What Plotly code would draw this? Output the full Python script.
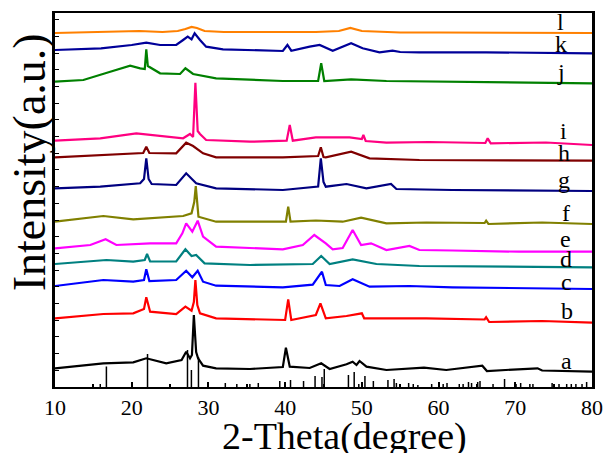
import plotly.graph_objects as go

# ---- data (2-theta in degrees, intensity in offset arbitrary units) ----
theta_a = [10, 16.3, 20.2, 21.9, 24.5, 26.5, 27.1, 27.6, 27.85, 28.1, 28.4, 28.65, 29.3, 31, 35.4, 39.7, 40.1, 40.6, 43.2, 44.7, 45.8, 48, 48.8, 49.3, 49.7, 50.6, 53.2, 58.1, 61, 65.7, 66.3, 72.9, 73.5, 80]
int_a = [18.7, 23.7, 24.7, 28.7, 23.7, 27, 35.3, 28.7, 32, 72, 35, 28.7, 21.3, 18.7, 18, 20, 39.3, 20.3, 19, 23.7, 18, 22.7, 25.3, 22, 26, 20.3, 17, 19.3, 17, 21.3, 16, 18.7, 16.5, 15.3]

theta_b = [10, 16.3, 20.2, 21.6, 21.9, 22.4, 25.8, 27, 27.8, 28.1, 28.3, 28.55, 28.9, 31, 40.0, 40.4, 40.8, 44.0, 44.6, 45.3, 48, 50.0, 50.3, 58.4, 66.0, 66.2, 66.6, 73.5, 80]
int_b = [68.7, 73, 73.7, 78, 89.7, 75.3, 73, 80.3, 76.3, 85, 107, 82, 73.7, 68.7, 67, 87.7, 67, 72, 83.7, 68.7, 71, 73.7, 68.7, 68.7, 67.5, 69.7, 65, 66, 64.3]

theta_c = [10, 16.3, 20.2, 21.6, 21.9, 22.3, 25.8, 27.1, 27.9, 28.6, 29.3, 31, 39.7, 43.6, 44.8, 45.3, 47.1, 48.8, 51, 56.2, 61.8, 80]
int_c = [101, 107, 105.3, 107, 117.7, 106, 107, 116.3, 109.7, 116.3, 105.3, 101.3, 99.7, 102.3, 115.3, 102, 101, 107.7, 100.3, 101, 99.7, 98]

theta_d = [10, 16.7, 20.2, 21.7, 22.0, 22.4, 25.8, 27, 27.8, 28.4, 29.5, 35.4, 43.6, 44.7, 45.8, 48.8, 51.9, 57.5, 80]
int_d = [123, 127, 125.3, 127, 133, 125.5, 125.7, 137.7, 131, 132, 123.7, 122, 123, 131, 123, 127.7, 123, 121, 119.7]

theta_e = [10, 14.6, 16.6, 18, 22.4, 25.8, 26.6, 27.1, 27.9, 28.6, 29.3, 31, 39.7, 42.3, 43.8, 45.3, 46.2, 47.5, 48.8, 49.9, 51.2, 53.2, 56.2, 57.5, 61.8, 70.5, 80]
int_e = [138.7, 142, 147.7, 142, 143.7, 143.7, 153.7, 163.7, 155.3, 166.3, 150.3, 140.3, 137.7, 142, 152, 143.7, 137.7, 139, 157, 142, 143.7, 137, 141, 137, 136.5, 135.3, 135.3]

theta_f = [10, 16.3, 20.2, 26.7, 27.8, 28.15, 28.35, 28.55, 28.7, 31, 40.1, 40.4, 40.7, 44, 47.5, 49.9, 53.2, 58.4, 66.0, 66.2, 66.5, 73.5, 80]
int_f = [165.3, 171, 167.7, 171, 173.7, 185, 201, 180, 170.3, 165.3, 165.3, 180.3, 165.3, 166.5, 165.3, 169.3, 163.7, 164.5, 164, 166.3, 163, 164.5, 163]

theta_g = [10, 15.9, 21.1, 21.6, 21.9, 22.2, 22.6, 25.8, 27.1, 28.4, 31, 39.7, 44.3, 44.65, 45.0, 45.3, 48, 50.6, 53.8, 54.5, 61.8, 80]
int_g = [198.7, 200.3, 203.7, 208, 228.7, 208, 203, 202, 213.7, 203.7, 198.7, 197, 200.5, 228.7, 205, 200.3, 203, 198.7, 203, 198, 197, 196]

theta_h = [10, 15.9, 20.6, 21.5, 21.9, 22.3, 25.8, 27.1, 28.0, 29.3, 31, 39.7, 44.3, 44.65, 45.0, 45.3, 48.6, 51, 57.5, 80]
int_h = [229.7, 232, 233.7, 234, 240.3, 234, 233.7, 244.3, 241, 233.7, 229.7, 229.7, 231, 239.7, 230, 229.7, 235.3, 228.7, 227, 226.3]

theta_i = [10, 15.9, 20.6, 23.7, 26.7, 27.6, 28.0, 28.3, 28.6, 28.9, 29.7, 35.4, 40.2, 40.6, 41.0, 44, 48.4, 50.0, 50.2, 50.5, 53.2, 58.8, 66.1, 66.4, 66.8, 74, 80]
int_i = [246.3, 248.7, 253.7, 251, 248.7, 253, 250, 304.3, 256, 253, 247, 245.3, 246.3, 262, 246.3, 249.7, 249.7, 248, 252, 246, 244.3, 245, 244, 248.7, 243.7, 244.5, 242]

theta_j = [10, 13.7, 17.2, 19.8, 21.1, 21.7, 21.9, 22.1, 23.7, 26.3, 27, 28, 31, 35.4, 39.7, 44.3, 44.7, 45.1, 48.6, 53.2, 66, 80]
int_j = [305.3, 307, 315.3, 321.3, 318.7, 318, 337.7, 321, 313.7, 313, 318.7, 313, 308.7, 307, 306, 306, 323.7, 306, 307.7, 306, 304.7, 303.7]

theta_k = [10, 14, 16, 20, 21.9, 23.7, 25.8, 26.7, 27.3, 27.8, 28.2, 28.9, 29.7, 31.9, 35.4, 39.7, 40.3, 40.8, 43.2, 44.5, 46.2, 48.6, 50.1, 52.3, 54, 55, 57.5, 66.2, 80]
int_k = [337, 338, 338.7, 342, 344.3, 342, 342, 347, 350.3, 347.7, 353.7, 347, 340.3, 337.7, 337, 336, 342, 336.3, 340.3, 342, 336.3, 343.7, 338.7, 334.7, 336.3, 335, 334.7, 334.7, 333.7]

theta_l = [10, 14, 18, 21, 24, 26, 27, 27.8, 28.5, 29.5, 32, 36, 40, 44, 47, 48.5, 50, 55, 60, 65, 70, 75, 80]
int_l = [354, 355, 355.5, 356, 355, 356, 358, 360, 359, 356, 355, 355, 355, 355, 356, 359, 356, 354.5, 354.5, 354.5, 354, 354, 354]

# reference (standard card) line positions and heights
ref_theta = [15.9, 16.7, 22.06, 27.27, 27.78, 28.7, 32.2, 33.7, 35.4, 36.5, 39.3, 40.7, 42.4, 43.9, 44.8, 45.1, 48.25, 49.0, 49.6, 50.4, 51.5, 53.4, 54.2, 54.5, 56.1, 56.7, 57.3, 59.1, 60.6, 61.1, 62.7, 63.2, 63.9, 64.3, 65.1, 65.4, 67.1, 68.6, 70.1, 70.7, 71.9, 72.3, 74.8, 75.7, 76.7, 77.3, 77.9, 78.7, 79.3]
ref_int = [3, 20.5, 33, 37, 17, 30, 4, 3, 3, 4, 6, 7, 6, 11, 10, 18, 12, 15, 3, 11, 6, 7, 8, 4, 4, 3, 2, 3, 3, 4, 3, 3, 5, 4, 5, 6, 3, 8, 3, 4, 3, 3, 4, 3, 3, 3, 3, 3, 5]

labels = ["a", "b", "c", "d", "e", "f", "g", "h", "i", "j", "k", "l"]
label_y = [26, 76, 105, 128, 148, 174, 207, 234, 256, 315, 343, 365]
x_ticks = [10, 20, 30, 40, 50, 60, 70, 80]

series = [
    (theta_a, int_a, "#000000"),
    (theta_b, int_b, "#ff0000"),
    (theta_c, int_c, "#0000ff"),
    (theta_d, int_d, "#008080"),
    (theta_e, int_e, "#ff00ff"),
    (theta_f, int_f, "#808000"),
    (theta_g, int_g, "#000080"),
    (theta_h, int_h, "#800000"),
    (theta_i, int_i, "#ff0080"),
    (theta_j, int_j, "#008000"),
    (theta_k, int_k, "#000099"),
    (theta_l, int_l, "#ff8000"),
]

FONT = "Liberation Serif, Times New Roman, serif"

fig = go.Figure()

# stick pattern
sx, sy = [], []
for t, h in zip(ref_theta, ref_int):
    sx += [t, t, None]
    sy += [0, h, None]
fig.add_trace(go.Scatter(x=sx, y=sy, mode="lines", line=dict(color="black", width=1.5),
                         hoverinfo="skip", showlegend=False))

for (xs, ys, col), lab in zip(series, labels):
    fig.add_trace(go.Scatter(x=xs, y=ys, mode="lines", name=lab,
                             line=dict(color=col, width=2.2), showlegend=False))

lab_x = [76.7, 76.7, 76.7, 76.6, 76.6, 76.6, 76.4, 76.4, 76.3, 76.0, 75.9, 75.9]
for lab, lx, ly in zip(labels, lab_x, label_y):
    fig.add_annotation(x=lx, y=ly, text=lab, showarrow=False, xanchor="center", yanchor="middle",
                       font=dict(family=FONT, size=24, color="black"))

# axis titles placed as annotations (paper coords)
fig.add_annotation(xref="paper", yref="paper", x=0.54, y=-0.133, text="2-Theta(degree)",
                   showarrow=False, xanchor="center", yanchor="middle",
                   font=dict(family=FONT, size=38, color="black"))
fig.add_annotation(xref="paper", yref="paper", x=-0.047, y=0.6, text="Intensity(a.u.)",
                   showarrow=False, xanchor="center", yanchor="middle", textangle=-90,
                   font=dict(family=FONT, size=46, color="black"))

fig.update_layout(
    width=605, height=453,
    margin=dict(l=55, r=13, t=13, b=66, autoexpand=False),
    paper_bgcolor="white", plot_bgcolor="white",
    font=dict(family=FONT, color="black"),
)
fig.update_xaxes(
    range=[10, 80], tickvals=x_ticks, ticktext=[str(v) for v in x_ticks],
    ticks="inside", ticklen=5, tickwidth=1.5, tickcolor="black",
    minor=dict(dtick=5, ticks="inside", ticklen=3, tickcolor="black"),
    showline=True, linewidth=2, linecolor="black", mirror=True,
    showgrid=False, zeroline=False, automargin=False,
    tickfont=dict(family=FONT, size=22),
)
fig.update_yaxes(
    range=[0, 374], dtick=16.7, tick0=0,
    ticks="inside", ticklen=4, tickcolor="black", showticklabels=False,
    showline=True, linewidth=2.5, linecolor="black", mirror=True,
    showgrid=False, zeroline=False, automargin=False,
)

# remove the default page margin so the 605x453 figure fills the window exactly
fig.write_html("out.html", config={"displayModeBar": False},
               post_script="document.body.style.margin='0';document.body.style.overflow='hidden';")
